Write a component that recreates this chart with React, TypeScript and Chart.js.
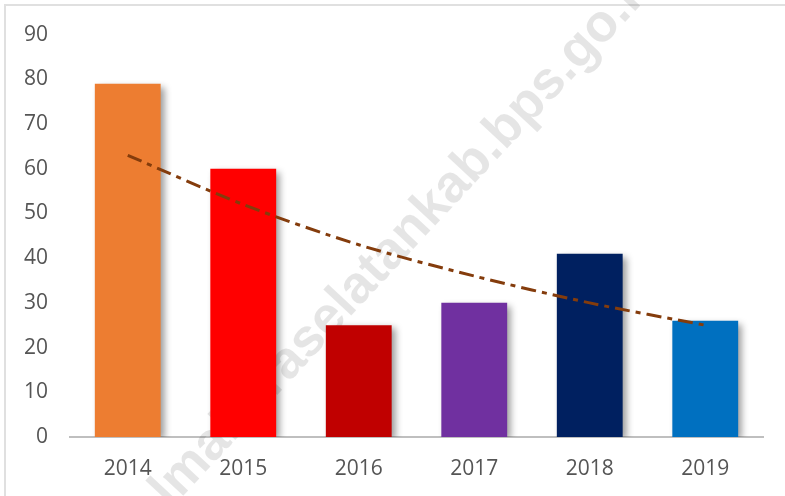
import React, { useEffect, useRef } from "react";
import { Chart, registerables } from "chart.js";

Chart.register(...registerables);

const categories = ["2014", "2015", "2016", "2017", "2018", "2019"];
const barValues = [79, 60, 25, 30, 41, 26];
const trendValues = [63, 52, 43, 36, 30, 25];
const barColors = ["#ED7D31", "#FF0000", "#C00000", "#7030A0", "#002060", "#0070C0"];
const yTicks = [0, 10, 20, 30, 40, 50, 60, 70, 80, 90];
const watermarkText = "halmaheraselatankab.bps.go.id";

const framePlugin = {
  id: "frame",
  beforeDraw(chart: any) {
    const ctx = chart.ctx;
    ctx.save();
    ctx.fillStyle = "#ffffff";
    ctx.fillRect(0, 0, chart.width, chart.height);
    ctx.strokeStyle = "#E0E0E0";
    ctx.lineWidth = 2;
    ctx.strokeRect(5, 5, chart.width + 20, chart.height + 20);
    ctx.restore();
  },
};

const watermarkPlugin = {
  id: "watermark",
  beforeDatasetsDraw(chart: any) {
    const ctx = chart.ctx;
    ctx.save();
    ctx.font = "bold 100px 'Liberation Sans', Arial, sans-serif";
    const w100 = ctx.measureText(watermarkText).width;
    const size = (786 / w100) * 100;
    ctx.font = `bold ${size}px 'Liberation Sans', Arial, sans-serif`;
    ctx.translate(386, 257);
    ctx.rotate((-47 * Math.PI) / 180);
    ctx.fillStyle = "rgba(0,0,0,0.1)";
    ctx.textAlign = "center";
    ctx.textBaseline = "middle";
    ctx.fillText(watermarkText, 0, 0);
    ctx.restore();
  },
};

const shadowPlugin = {
  id: "barShadow",
  beforeDatasetDraw(chart: any, args: any) {
    if (args.meta.type === "bar") {
      const ctx = chart.ctx;
      ctx.save();
      ctx.shadowColor = "rgba(0,0,0,0.4)";
      ctx.shadowBlur = 7;
      ctx.shadowOffsetX = 4;
      ctx.shadowOffsetY = 3;
    }
  },
  afterDatasetDraw(chart: any, args: any) {
    if (args.meta.type === "bar") {
      chart.ctx.restore();
    }
  },
};

export default function App() {
  const ref = useRef<HTMLCanvasElement | null>(null);
  useEffect(() => {
    document.body.style.margin = "0";
    const canvas = ref.current!;
    const chart = new Chart(canvas, {
      type: "bar",
      data: {
        labels: categories,
        datasets: [
          {
            type: "line",
            data: trendValues,
            borderColor: "#843C0C",
            borderWidth: 3,
            borderDash: [15, 6, 5, 6],
            pointRadius: 0,
            tension: 0.3,
            fill: false,
            order: 0,
          } as any,
          {
            type: "bar",
            data: barValues,
            backgroundColor: barColors,
            categoryPercentage: 1,
            barPercentage: 0.57,
            order: 1,
          },
        ],
      },
      options: {
        responsive: false,
        animation: false,
        layout: { padding: { top: 33, right: 22, left: 0, bottom: 0 } },
        plugins: { legend: { display: false }, tooltip: { enabled: false } },
        scales: {
          x: {
            grid: { display: false, drawTicks: false },
            border: { display: true, color: "#BFBFBF", width: 2 },
            ticks: {
              color: "#555555",
              font: { family: "'Open Sans', sans-serif", size: 21 },
              padding: 19,
              maxRotation: 0,
            },
            afterFit: (s: any) => {
              s.height = 59;
            },
          },
          y: {
            min: 0,
            max: 90,
            grid: { display: false, drawTicks: false },
            border: { display: false },
            afterBuildTicks: (s: any) => {
              s.ticks = yTicks.map((v) => ({ value: v }));
            },
            ticks: {
              color: "#555555",
              font: { family: "'Open Sans', sans-serif", size: 21 },
              padding: 22,
            },
            afterFit: (s: any) => {
              s.width = 70;
            },
          },
        },
      },
      plugins: [framePlugin, watermarkPlugin, shadowPlugin],
    });
    return () => chart.destroy();
  }, []);
  return (
    <div style={{ width: 785, height: 496 }}>
      <canvas ref={ref} width={785} height={496} />
    </div>
  );
}
